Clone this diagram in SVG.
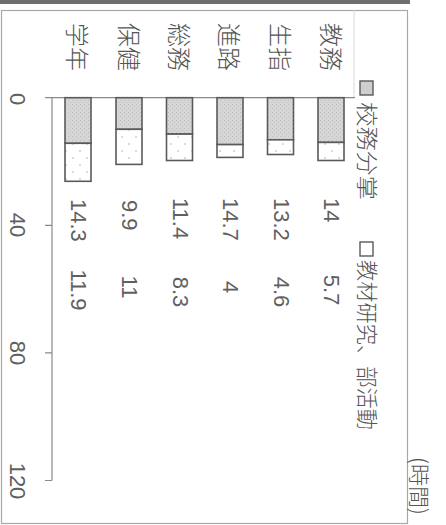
<svg xmlns="http://www.w3.org/2000/svg" width="446" height="525" viewBox="0 0 446 525">
<defs>
<pattern id="dots" width="14" height="14" patternUnits="userSpaceOnUse">
<rect width="14" height="14" fill="#ffffff"/>
<circle cx="3" cy="4" r="0.7" fill="#999"/>
<circle cx="10" cy="11" r="0.7" fill="#999"/>
</pattern>
<pattern id="stip" width="4" height="4" patternUnits="userSpaceOnUse">
<rect width="4" height="4" fill="#d6d6d6"/>
<rect x="0" y="0" width="1" height="1" fill="#bdbdbd"/>
<rect x="2" y="2" width="1" height="1" fill="#c4c4c4"/>
</pattern>
<style>
.t{font-family:"Noto Sans CJK JP","Liberation Sans",sans-serif;font-weight:300;fill:#555;dominant-baseline:central;}
.n{font-family:"Liberation Sans","Noto Sans CJK JP",sans-serif;fill:#606060;font-size:22px;dominant-baseline:central;}
.cat{font-size:24px;}
.leg{font-size:22px;}
.s1{fill:url(#stip);stroke:#5a5a5a;stroke-width:1.6;}
.s2{fill:url(#dots);stroke:#5a5a5a;stroke-width:1.6;}
.ax{stroke:#8a8a8a;stroke-width:1.2;fill:none;}
</style>
</defs>
<rect x="0" y="0" width="446" height="525" fill="#ffffff"/>
<rect x="0" y="0" width="410" height="4" fill="#6e6e6e"/>
<rect x="1.5" y="10.5" width="406" height="513" fill="none" stroke="#a8a8a8" stroke-width="1.2"/>
<line x1="354" y1="10" x2="354" y2="98" stroke="#d8d8d8" stroke-width="1"/>

<g id="axis">
<path class="ax" d="M45,97.7 H355 M52,97.7 V480.5 M45,225.3 H52 M45,352.9 H52 M45,480.5 H52"/>
<text class="n" transform="translate(17,99) rotate(90)" text-anchor="middle">0</text>
<text class="n" transform="translate(17,225) rotate(90)" text-anchor="middle">40</text>
<text class="n" transform="translate(17,353) rotate(90)" text-anchor="middle">80</text>
<text class="n" transform="translate(17,481) rotate(90)" text-anchor="middle">120</text>
</g>

<g id="legend">
<rect x="360" y="81" width="13" height="14" fill="#cfcfcf" stroke="#5a5a5a" stroke-width="1.4"/>
<text class="t leg" transform="translate(369,102) rotate(90)" textLength="98" lengthAdjust="spacingAndGlyphs">校務分掌</text>
<rect x="360" y="242" width="13" height="14" fill="#ffffff" stroke="#5a5a5a" stroke-width="1.4"/>
<text class="t leg" transform="translate(369,260) rotate(90)" textLength="170" lengthAdjust="spacingAndGlyphs">教材研究、部活動</text>
<text class="t leg" transform="translate(421,486) rotate(90)" text-anchor="middle">(時間)</text>
</g>

<g id="kyomu">
<text class="t cat" transform="translate(332,47) rotate(90)" text-anchor="middle">教務</text>
<rect class="s1" x="318" y="97.7" width="26" height="44.7"/>
<rect class="s2" x="318" y="142.4" width="26" height="18.1"/>
<text class="n" transform="translate(331,198) rotate(90)">14</text>
<text class="n" transform="translate(331,290) rotate(90)" text-anchor="middle">5.7</text>
</g>

<g id="seishi">
<text class="t cat" transform="translate(281,47) rotate(90)" text-anchor="middle">生指</text>
<rect class="s1" x="267.5" y="97.7" width="26" height="42.1"/>
<rect class="s2" x="267.5" y="139.8" width="26" height="14.7"/>
<text class="n" transform="translate(281,198) rotate(90)">13.2</text>
<text class="n" transform="translate(281,292) rotate(90)" text-anchor="middle">4.6</text>
</g>

<g id="shinro">
<text class="t cat" transform="translate(230,47) rotate(90)" text-anchor="middle">進路</text>
<rect class="s1" x="217" y="97.7" width="26" height="46.9"/>
<rect class="s2" x="217" y="144.6" width="26" height="12.8"/>
<text class="n" transform="translate(230,198) rotate(90)">14.7</text>
<text class="n" transform="translate(230,287) rotate(90)" text-anchor="middle">4</text>
</g>

<g id="somu">
<text class="t cat" transform="translate(180,47) rotate(90)" text-anchor="middle">総務</text>
<rect class="s1" x="166.5" y="97.7" width="26" height="36.4"/>
<rect class="s2" x="166.5" y="134.1" width="26" height="26.4"/>
<text class="n" transform="translate(180,198) rotate(90)">11.4</text>
<text class="n" transform="translate(180,292) rotate(90)" text-anchor="middle">8.3</text>
</g>

<g id="hoken">
<text class="t cat" transform="translate(130,47) rotate(90)" text-anchor="middle">保健</text>
<rect class="s1" x="116" y="97.7" width="26" height="31.6"/>
<rect class="s2" x="116" y="129.3" width="26" height="35.1"/>
<text class="n" transform="translate(129,200) rotate(90)">9.9</text>
<text class="n" transform="translate(129,287) rotate(90)" text-anchor="middle">11</text>
</g>

<g id="gakunen">
<text class="t cat" transform="translate(78,47) rotate(90)" text-anchor="middle">学年</text>
<rect class="s1" x="65" y="97.7" width="26" height="45.6"/>
<rect class="s2" x="65" y="143.3" width="26" height="38"/>
<text class="n" transform="translate(78,199) rotate(90)">14.3</text>
<text class="n" transform="translate(78,290) rotate(90)" text-anchor="middle">11.9</text>
</g>
</svg>
